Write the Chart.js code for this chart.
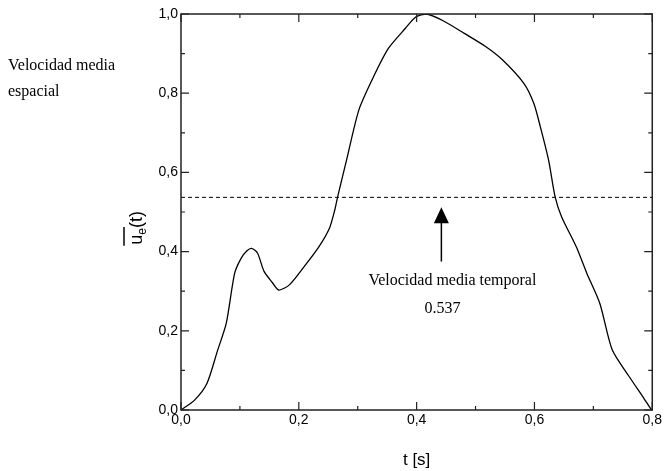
<!DOCTYPE html>
<html>
<head>
<meta charset="utf-8">
<script src="https://cdn.jsdelivr.net/npm/chart.js@4.4.0/dist/chart.umd.min.js"></script>
<style>
  html, body { margin: 0; padding: 0; background: #fff; }
  #wrap { width: 664px; height: 471px; }
</style>
</head>
<body>
<div id="wrap"><canvas id="velchart" width="664" height="471"></canvas></div>
<script>
// time axis [s] and normalised mean velocity
var tValues = [0, 0.023, 0.044, 0.062, 0.077, 0.091, 0.102, 0.112, 0.12, 0.13, 0.141, 0.155, 0.166, 0.184,
  0.209, 0.234, 0.252, 0.261, 0.266, 0.281, 0.302, 0.327, 0.352, 0.381, 0.399, 0.417, 0.445, 0.481,
  0.517, 0.546, 0.582, 0.599, 0.61, 0.624, 0.635, 0.646, 0.671, 0.689, 0.711, 0.732, 0.761, 0.786, 0.797, 0.8];
var uValues = [0, 0.025, 0.067, 0.15, 0.22, 0.345, 0.383, 0.402, 0.408, 0.396, 0.35, 0.322, 0.303, 0.316,
  0.362, 0.412, 0.459, 0.505, 0.539, 0.631, 0.758, 0.842, 0.913, 0.964, 0.993, 1.0, 0.983, 0.951,
  0.918, 0.884, 0.825, 0.774, 0.715, 0.631, 0.539, 0.488, 0.412, 0.345, 0.269, 0.152, 0.084, 0.029, 0.004, 0];

var meanValue = 0.537;          // velocidad media temporal
var arrowX = 0.442;             // where the arrow points at the mean line
var arrowFrom = 0.375;

var xTickMarks = [0, 0.1, 0.2, 0.3, 0.4, 0.5, 0.6, 0.7, 0.8];
var yTickMarks = [0, 0.1, 0.2, 0.3, 0.4, 0.5, 0.6, 0.7, 0.8, 0.9, 1.0];

var curve = tValues.map(function (t, i) { return { x: t, y: uValues[i] }; });
var meanLine = [{ x: 0, y: meanValue }, { x: 0.8, y: meanValue }];

function commaLabel(v) {
  return v.toFixed(1).replace(".", ",");
}

// box + inward ticks on all four sides, and the annotations
var framePlugin = {
  id: "frame",
  afterDraw: function (chart) {
    var ctx = chart.ctx;
    var a = chart.chartArea;
    var xs = chart.scales.x, ys = chart.scales.y;
    ctx.save();
    ctx.strokeStyle = "#222";
    ctx.lineWidth = 1.5;
    ctx.strokeRect(a.left, a.top, a.right - a.left, a.bottom - a.top);

    ctx.lineWidth = 1.2;
    ctx.beginPath();
    xTickMarks.forEach(function (v, i) {
      var px = xs.getPixelForValue(v);
      var len = i % 2 === 0 ? 8 : 4;
      ctx.moveTo(px, a.bottom); ctx.lineTo(px, a.bottom - len);
      ctx.moveTo(px, a.top); ctx.lineTo(px, a.top + len);
    });
    yTickMarks.forEach(function (v, i) {
      var py = ys.getPixelForValue(v);
      var len = i % 2 === 0 ? 8 : 4;
      ctx.moveTo(a.left, py); ctx.lineTo(a.left + len, py);
      ctx.moveTo(a.right, py); ctx.lineTo(a.right - len, py);
    });
    ctx.stroke();

    // arrow pointing up to the mean line
    var ax = xs.getPixelForValue(arrowX);
    var yTip = ys.getPixelForValue(meanValue) + 10;
    var yBase = ys.getPixelForValue(arrowFrom);
    ctx.strokeStyle = "#000";
    ctx.lineWidth = 1.5;
    ctx.beginPath();
    ctx.moveTo(ax, yBase);
    ctx.lineTo(ax, yTip + 14);
    ctx.stroke();
    ctx.fillStyle = "#000";
    ctx.beginPath();
    ctx.moveTo(ax, yTip);
    ctx.lineTo(ax - 7.5, yTip + 16);
    ctx.lineTo(ax + 7.5, yTip + 16);
    ctx.closePath();
    ctx.fill();

    // annotation texts
    ctx.font = "16px 'Liberation Serif', 'Times New Roman', serif";
    ctx.textBaseline = "alphabetic";
    ctx.textAlign = "center";
    ctx.fillText("Velocidad media temporal", ax + 11, yBase + 23);
    ctx.fillText(meanValue.toFixed(3), ax + 1, yBase + 51);
    ctx.textAlign = "left";
    ctx.fillText("Velocidad media", 8, 70);
    ctx.fillText("espacial", 8, 96);

    // y title: overlined u with subscript e, rotated
    ctx.translate(142, ys.getPixelForValue(0.46));
    ctx.rotate(-Math.PI / 2);
    ctx.font = "18px 'Liberation Sans', Arial, sans-serif";
    var wU = ctx.measureText("u").width;
    var wT = ctx.measureText("(t)").width;
    ctx.font = "12px 'Liberation Sans', Arial, sans-serif";
    var wE = ctx.measureText("e").width;
    var total = wU + wE + wT;
    var x0 = -total / 2;
    ctx.textAlign = "left";
    ctx.font = "18px 'Liberation Sans', Arial, sans-serif";
    ctx.fillText("u", x0, 0);
    ctx.font = "12px 'Liberation Sans', Arial, sans-serif";
    ctx.fillText("e", x0 + wU, 4);
    ctx.font = "18px 'Liberation Sans', Arial, sans-serif";
    ctx.fillText("(t)", x0 + wU + wE, 0);
    ctx.lineWidth = 1.5;
    ctx.beginPath();
    ctx.moveTo(x0 - 1, -18);
    ctx.lineTo(x0 + wU + wE + 1, -18);
    ctx.stroke();
    ctx.restore();
  }
};

var ctx = document.getElementById("velchart").getContext("2d");

var chart = new Chart(ctx, {
  type: "scatter",
  data: {
    datasets: [
      {
        label: "u_e(t)",
        data: curve,
        showLine: true,
        borderColor: "#000",
        borderWidth: 1.3,
        pointRadius: 0,
        tension: 0.25,
        fill: false
      },
      {
        label: "media",
        data: meanLine,
        showLine: true,
        borderColor: "#000",
        borderWidth: 1,
        borderDash: [4, 3],
        pointRadius: 0,
        fill: false
      }
    ]
  },
  options: {
    responsive: false,
    animation: false,
    layout: { padding: { left: 0, top: 14, right: 11, bottom: 0 } },
    plugins: {
      legend: { display: false },
      tooltip: { enabled: false }
    },
    scales: {
      x: {
        type: "linear",
        min: 0,
        max: 0.8,
        grid: { display: false, drawTicks: false },
        border: { display: false },
        ticks: {
          stepSize: 0.2,
          padding: 2,
          color: "#000",
          font: { family: "'Liberation Sans', Arial, sans-serif", size: 14 },
          callback: function (v) { return commaLabel(v); }
        },
        title: {
          display: true,
          text: "t [s]",
          color: "#000",
          font: { family: "'Liberation Sans', Arial, sans-serif", size: 17 },
          padding: { top: 12, bottom: 0 }
        },
        afterFit: function (scale) { scale.height = 61; }
      },
      y: {
        type: "linear",
        min: 0,
        max: 1,
        grid: { display: false, drawTicks: false },
        border: { display: false },
        ticks: {
          stepSize: 0.2,
          padding: 3,
          color: "#000",
          font: { family: "'Liberation Sans', Arial, sans-serif", size: 14 },
          callback: function (v) { return commaLabel(v); }
        },
        afterFit: function (scale) { scale.width = 181; }
      }
    }
  },
  plugins: [framePlugin]
});
</script>
</body>
</html>
